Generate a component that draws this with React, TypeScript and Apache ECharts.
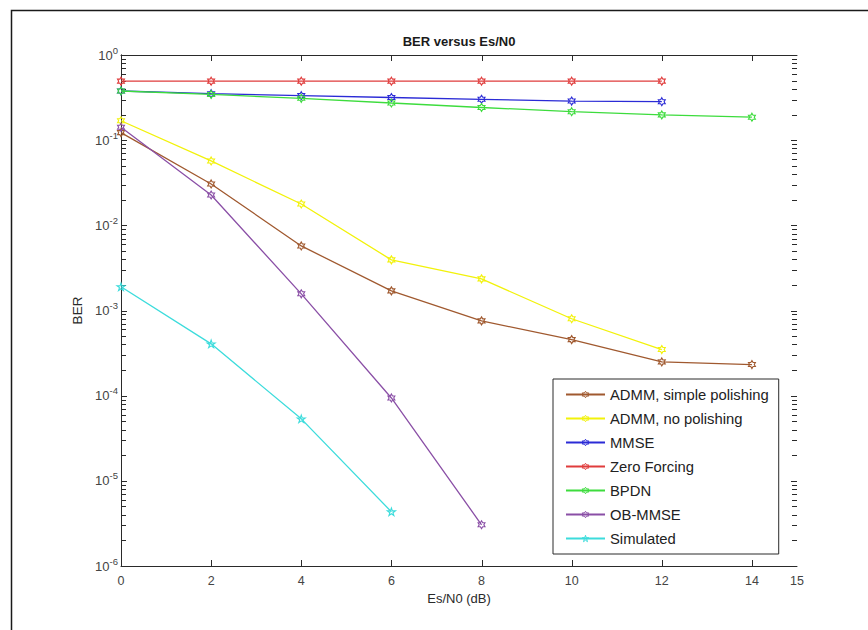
import React, { useEffect, useRef } from "react";
import * as echarts from "echarts";

// ---- data ----
const xValues = [0, 2, 4, 6, 8, 10, 12, 14];
const admmSimple = [0.1225, 0.0306, 0.00573, 0.0017, 0.000755, 0.000455, 0.000249, 0.000232];
const admmNoPolish = [0.169, 0.057, 0.0178, 0.00393, 0.00235, 0.0008, 0.000348];
const mmse = [0.378, 0.351, 0.333, 0.317, 0.302, 0.288, 0.283];
const zeroForcing = [0.493, 0.493, 0.493, 0.493, 0.493, 0.493, 0.493];
const bpdn = [0.378, 0.344, 0.31, 0.273, 0.242, 0.216, 0.198, 0.186];
const obMmse = [0.1417, 0.0227, 0.00157, 0.000094, 0.00000305];
const simulated = [0.0019, 0.000406, 0.0000534, 0.00000433];

const seriesNames = [
  "ADMM, simple polishing",
  "ADMM, no polishing",
  "MMSE",
  "Zero Forcing",
  "BPDN",
  "OB-MMSE",
  "Simulated",
];
const seriesValues = [admmSimple, admmNoPolish, mmse, zeroForcing, bpdn, obMmse, simulated];
const seriesColors = ["#a0592f", "#f2f20a", "#2b2bd6", "#e03c3c", "#3ddc3d", "#8a4fa6", "#3cdcdc"];

const xTickLabels = ["0", "2", "4", "6", "8", "10", "12", "14", "15"];
const xMajorTicks = [2, 4, 6, 8, 10, 12, 14];
const decadeExponents = [-6, -5, -4, -3, -2, -1];
const minorMultipliers = [2, 3, 4, 5, 6, 7, 8, 9];
const X_MIN = 0;
const X_MAX = 15;

const FONT = "'Liberation Sans', Arial, Helvetica, sans-serif";
const AXIS_COLOR = "#2a2a2a";

function starPath(points: number, inner: number): string {
  const parts: string[] = [];
  for (let i = 0; i < points * 2; i++) {
    const r = i % 2 === 0 ? 1 : inner;
    const a = -Math.PI / 2 + (i * Math.PI) / points;
    const x = 50 + 50 * r * Math.cos(a);
    const y = 50 + 50 * r * Math.sin(a);
    parts.push((i === 0 ? "M" : "L") + x.toFixed(2) + " " + y.toFixed(2));
  }
  return "path://" + parts.join(" ") + " Z";
}
const HEXAGRAM = starPath(6, 0.577);
const PENTAGRAM = starPath(5, 0.382);

export default function App() {
  const ref = useRef<HTMLDivElement>(null);
  useEffect(() => {
    if (!ref.current) return;
    const chart = echarts.init(ref.current, null, { renderer: "svg" });

    const lineSeries = seriesNames.map((name, k) => ({
      name,
      type: "line",
      xAxisIndex: 0,
      yAxisIndex: 0,
      data: seriesValues[k].map((v, i) => [xValues[i], v]),
      symbol: k === 6 ? PENTAGRAM : HEXAGRAM,
      symbolSize: 8,
      symbolKeepAspect: true,
      showAllSymbol: true,
      lineStyle: { color: seriesColors[k], width: 1.3 },
      itemStyle: { color: "rgba(255,255,255,0)", borderColor: seriesColors[k], borderWidth: 1.1 },
      emphasis: { disabled: true },
      z: 3 + k,
    }));

    const axisLine = { show: true, lineStyle: { color: AXIS_COLOR, width: 1 } };

    const baseGraphics: any[] = [
      {
        id: "frame",
        type: "rect",
        left: 9,
        top: 8,
        shape: { x: 0, y: 0, width: 900, height: 700 },
        style: { fill: "none", stroke: "#1a1a1a", lineWidth: 1.5 },
        silent: true,
        z: 100,
      },
      {
        id: "title",
        type: "text",
        x: 459,
        y: 41,
        style: {
          text: "BER versus Es/N0",
          font: "bold 13px " + FONT,
          fill: "#1a1a1a",
          textAlign: "center",
          textVerticalAlign: "middle",
        },
        silent: true,
      },
    ];

    chart.setOption({
      animation: false,
      backgroundColor: "#ffffff",
      grid: { left: 121, right: 71, top: 55, bottom: 64, containLabel: false },
      graphic: baseGraphics,
      legend: {
        orient: "vertical",
        left: 553,
        top: 379,
        data: seriesNames,
        backgroundColor: "#ffffff",
        borderColor: AXIS_COLOR,
        borderWidth: 1,
        borderRadius: 0,
        padding: [8, 10, 8, 12],
        itemWidth: 39,
        itemHeight: 8,
        itemGap: 9,
        itemStyle: { color: "rgba(255,255,255,0)", borderWidth: 1 },
        textStyle: { fontSize: 14.8, lineHeight: 15, color: "#222", fontFamily: FONT },
        selectedMode: false,
        z: 20,
      },
      xAxis: [
        {
          type: "value",
          min: X_MIN,
          max: X_MAX,
          interval: 2,
          position: "bottom",
          name: "Es/N0 (dB)",
          nameLocation: "middle",
          nameGap: 26,
          nameTextStyle: { fontSize: 13, color: AXIS_COLOR, fontFamily: FONT },
          axisLine,
          axisTick: { show: false },
          axisLabel: {
            margin: 8,
            fontSize: 12.5,
            color: "#444",
            fontFamily: FONT,
            showMaxLabel: true,
            formatter: (v: number) => (xTickLabels.indexOf(String(v)) >= 0 ? String(v) : ""),
          },
          splitLine: { show: false },
        },
        {
          type: "value",
          min: X_MIN,
          max: X_MAX,
          interval: 2,
          position: "top",
          axisLine,
          axisTick: { show: false },
          axisLabel: { show: false },
          splitLine: { show: false },
        },
      ],
      yAxis: [
        {
          type: "log",
          logBase: 10,
          min: 1e-6,
          max: 1,
          interval: 1,
          position: "left",
          name: "BER",
          nameLocation: "middle",
          nameGap: 33,
          nameTextStyle: { fontSize: 13.5, color: AXIS_COLOR, fontFamily: FONT },
          axisLine,
          axisTick: { show: false },
          axisLabel: {
            margin: 3,
            fontSize: 13,
            color: "#444",
            fontFamily: FONT,
            formatter: (v: number) => "{b|10}{s|" + Math.round(Math.log10(v)) + "}",
            rich: {
              b: { fontSize: 13, lineHeight: 20, color: "#444", fontFamily: FONT, verticalAlign: "middle" },
              s: { fontSize: 9.5, lineHeight: 10, color: "#444", fontFamily: FONT, verticalAlign: "top" },
            },
          },
          splitLine: { show: false },
        },
        {
          type: "log",
          logBase: 10,
          min: 1e-6,
          max: 1,
          interval: 1,
          position: "right",
          axisLine,
          axisTick: { show: false },
          axisLabel: { show: false },
          splitLine: { show: false },
        },
      ],
      series: lineSeries,
    });

    // MATLAB-style inward ticks on all four sides, placed through the axes' own scales
    const tickGraphics: any[] = [];
    const toPx = (x: number, y: number) =>
      chart.convertToPixel({ xAxisIndex: 0, yAxisIndex: 0 }, [x, y]) as number[];
    const addLine = (x1: number, y1: number, x2: number, y2: number) => {
      tickGraphics.push({
        type: "line",
        shape: { x1, y1, x2, y2 },
        style: { stroke: AXIS_COLOR, lineWidth: 1 },
        silent: true,
      });
    };
    const yTop = toPx(X_MIN, 1)[1];
    const yBottom = toPx(X_MIN, 1e-6)[1];
    const xLeft = toPx(X_MIN, 1)[0];
    const xRight = toPx(X_MAX, 1)[0];
    xMajorTicks.forEach((xv) => {
      const px = Math.round(toPx(xv, 1)[0]) + 0.5;
      addLine(px, yBottom, px, yBottom - 6);
      addLine(px, yTop, px, yTop + 6);
    });
    decadeExponents.concat([0]).forEach((e) => {
      const py = Math.round(toPx(X_MIN, Math.pow(10, e))[1]) + 0.5;
      addLine(xLeft, py, xLeft + 6, py);
      addLine(xRight, py, xRight - 6, py);
    });
    decadeExponents.forEach((e) => {
      minorMultipliers.forEach((m) => {
        const py = Math.round(toPx(X_MIN, m * Math.pow(10, e))[1]) + 0.5;
        addLine(xLeft, py, xLeft + 5, py);
        addLine(xRight, py, xRight - 5, py);
      });
    });

    chart.setOption({
      graphic: [
        ...baseGraphics,
        { id: "ticks", type: "group", silent: true, children: tickGraphics, z: 50 },
      ],
    });

    return () => chart.dispose();
  }, []);

  return (
    <div
      ref={ref}
      style={{ position: "absolute", left: 0, top: 0, width: 868, height: 630, background: "#fff" }}
    />
  );
}
